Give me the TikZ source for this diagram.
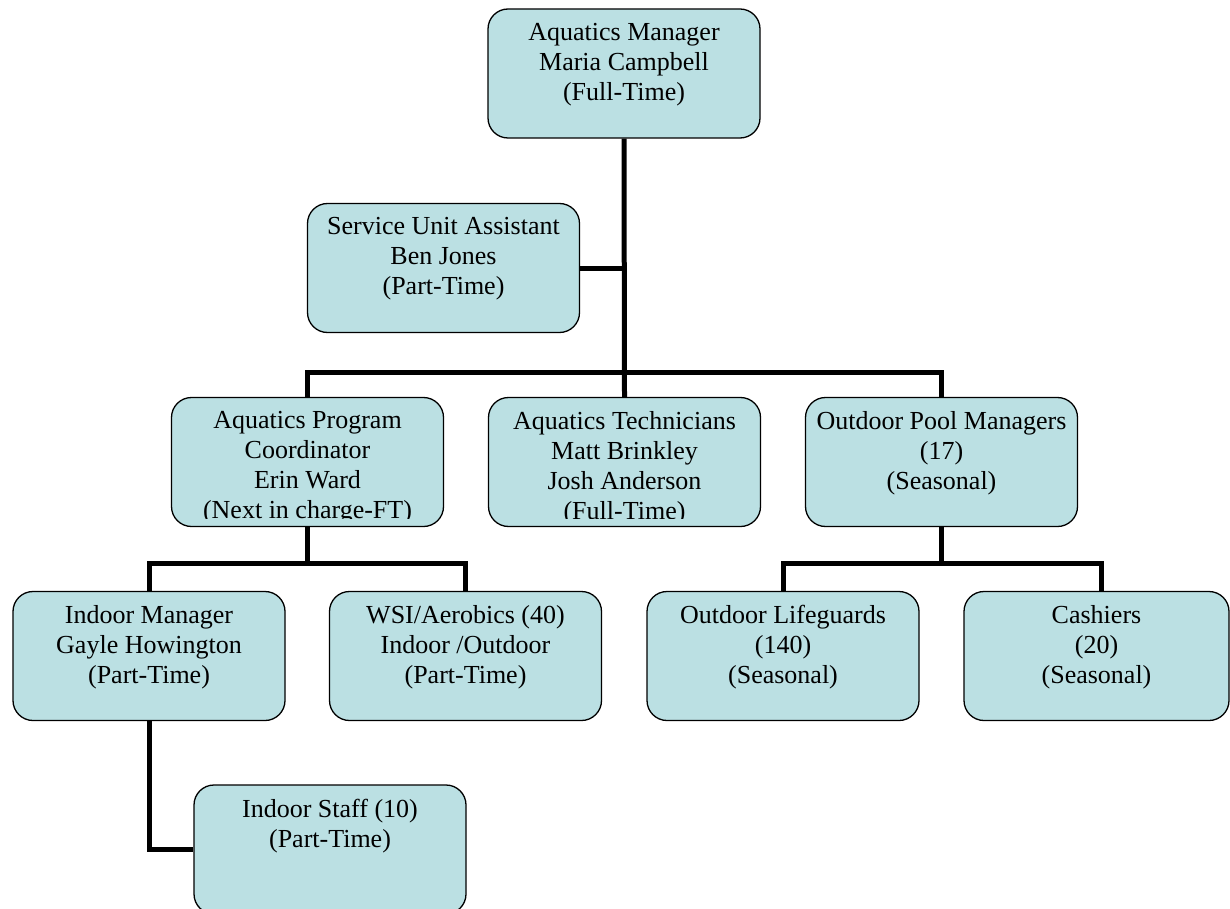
\documentclass[tikz,border=0pt]{standalone}
\usepackage{fontspec}
\setmainfont{Liberation Serif}
\definecolor{BoxFill}{RGB}{187,224,227}

% one box of the chart: name, centre, text (clipped near the bottom edge)
\newcommand{\OrgBox}[4][]{%
  \node[BoxStyle, #1, path picture={
      \clip ([yshift=8pt]path picture bounding box.south west) rectangle (path picture bounding box.north east);
      \node[TextStyle] at ([yshift=-13.5pt]path picture bounding box.north) {#4};}] (#2) at (#3) {};}

\begin{document}
\begin{tikzpicture}[x=1pt,y=-1pt]
		\tikzstyle{BoxStyle}  = [draw, line width=1.3pt, fill=BoxFill, rounded corners=20pt,
		                         minimum width=272pt, minimum height=129pt, inner sep=0pt]
		\tikzstyle{TextStyle} = [draw=none, fill=none, sharp corners, minimum width=0pt, minimum height=0pt,
		                         anchor=north, align=center, inner sep=0pt, font=\fontsize{26}{30}\selectfont]
		\tikzstyle{EdgeStyle} = [line width=5pt]
		
		\useasboundingbox (0,0) rectangle (1230,909);
		
		\OrgBox{mgr}{624,73.5}{Aquatics Manager\\Maria Campbell\\(Full-Time)}
		\OrgBox{sua}{443.5,268}{Service Unit Assistant\\Ben Jones\\(Part-Time)}
		\OrgBox{coord}{307.5,462}{Aquatics Program\\Coordinator\\Erin Ward\\(Next in charge-FT)}
		\OrgBox{tech}{624.5,462}{Aquatics Technicians\\Matt Brinkley\\Josh Anderson\\(Full-Time)}
		\OrgBox{pool}{941.5,462}{Outdoor Pool Managers\\(17)\\(Seasonal)}
		\OrgBox{imgr}{149,656}{Indoor Manager\\Gayle Howington\\(Part-Time)}
		\OrgBox{wsi}{465.5,656}{WSI/Aerobics (40)\\Indoor /Outdoor\\(Part-Time)}
		\OrgBox{guard}{783,656}{Outdoor Lifeguards\\(140)\\(Seasonal)}
		\OrgBox[minimum width=265pt]{cash}{1096.5,656}{Cashiers\\(20)\\(Seasonal)}
		\OrgBox{staff}{330,849.5}{Indoor Staff (10)\\(Part-Time)}
		
		\coordinate (bus1) at (0,372);
		\coordinate (bus2) at (0,563);
		
		\draw[EdgeStyle] (mgr.south) -- (tech.north);
		\draw[EdgeStyle] (sua.east) -- (sua.east -| mgr.south);
		\draw[EdgeStyle] (coord.north) -- (coord.north |- bus1) -- (pool.north |- bus1) -- (pool.north);
		\draw[EdgeStyle] (coord.south) -- (coord.south |- bus2);
		\draw[EdgeStyle] (imgr.north) -- (imgr.north |- bus2) -- (wsi.north |- bus2) -- (wsi.north);
		\draw[EdgeStyle] (pool.south) -- (pool.south |- bus2);
		\draw[EdgeStyle] (guard.north) -- (guard.north |- bus2) -- ([xshift=5pt]cash.north |- bus2) -- ([xshift=5pt]cash.north);
		\draw[EdgeStyle] (imgr.south) |- (staff.west);
	\end{tikzpicture}
\end{document}
